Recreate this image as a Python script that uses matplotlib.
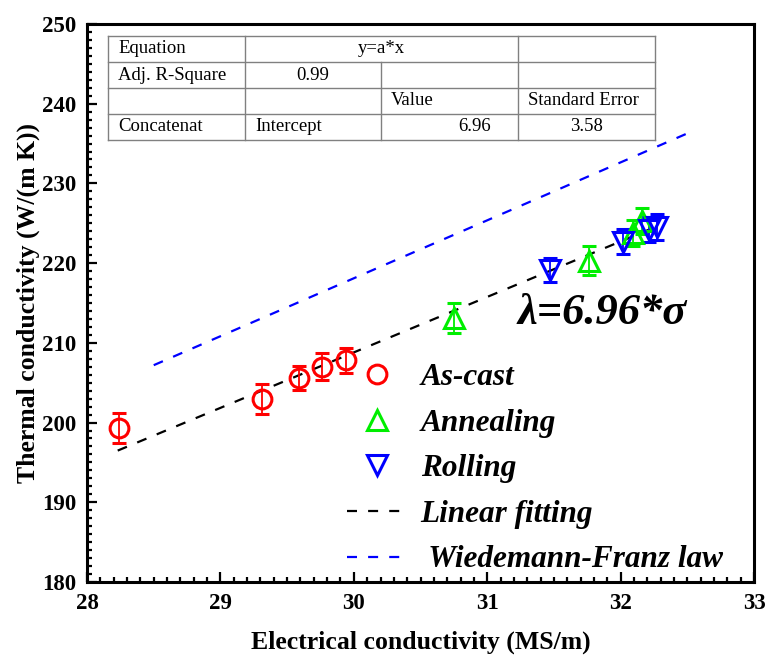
#IMPORT NECESSARY LIBRARIES
import matplotlib.pyplot as plt
from matplotlib.lines import Line2D
from matplotlib.ticker import MultipleLocator

plt.rcParams['font.family'] = ['Liberation Serif', 'DejaVu Serif']

#DATA
cast_x = [28.24, 29.31, 29.59, 29.76, 29.94]
cast_y = [199.3, 202.95, 205.6, 207.0, 207.8]
cast_err = [1.9, 1.9, 1.5, 1.7, 1.6]

anneal_x = [30.75, 31.76, 32.09, 32.16]
anneal_y = [213.1, 220.3, 223.8, 225.3]
anneal_err = [1.9, 1.8, 1.6, 1.6]

roll_x = [31.47, 32.02, 32.21, 32.27]
roll_y = [219.1, 222.7, 224.2, 224.5]
roll_err = [1.5, 1.6, 1.6, 1.6]

fit_slope = 6.96
fit_x = [28.23, 32.25]
wf_slope = 7.27
wf_x = [28.5, 32.5]

table_rows = [
    ["Equation", "y=a*x", "", ""],
    ["Adj. R-Square", "0.99", "", ""],
    ["", "", "Value", "Standard Error"],
    ["Concatenat", "Intercept", "6.96", "3.58"],
]

#FIGURE
fig = plt.figure(figsize=(7.66, 6.59), dpi=100)
ax = fig.add_axes([0.1136, 0.1169, 0.8708, 0.8467])

ms = 13.5
mew = 2.2
dash = (4.5, 5)

ax.plot(fit_x, [fit_slope * v for v in fit_x], color='black', lw=1.6, dashes=dash)
ax.plot(wf_x, [wf_slope * v for v in wf_x], color='blue', lw=1.6, dashes=dash)

ax.errorbar(cast_x, cast_y, yerr=cast_err, fmt='o', ms=ms, mfc='none', mec='red', mew=mew,
            ecolor='red', elinewidth=1.3, capsize=5, capthick=1.3)
ax.errorbar(anneal_x, anneal_y, yerr=anneal_err, fmt='^', ms=ms + 1, mfc='none', mec='#00ee00', mew=mew,
            ecolor='#00ee00', elinewidth=1.3, capsize=5, capthick=1.3)
ax.errorbar(roll_x, roll_y, yerr=roll_err, fmt='v', ms=ms + 1, mfc='none', mec='blue', mew=mew,
            ecolor='blue', elinewidth=1.3, capsize=5, capthick=1.3)

#AXES
ax.set_xlim(28, 33)
ax.set_ylim(180, 250)
ax.xaxis.set_major_locator(MultipleLocator(1))
ax.xaxis.set_minor_locator(MultipleLocator(0.1))
ax.yaxis.set_major_locator(MultipleLocator(10))
ax.yaxis.set_minor_locator(MultipleLocator(1))
ax.tick_params(which='both', direction='in', width=1.6, top=False, right=False)
ax.tick_params(which='major', length=7, labelsize=16.5, pad=8)
ax.tick_params(which='minor', length=3.5)
for lab in ax.get_xticklabels() + ax.get_yticklabels():
    lab.set_fontweight('bold')
for sp in ax.spines.values():
    sp.set_linewidth(2.2)

ax.set_xlabel("Electrical conductivity (MS/m)", fontsize=18.5, fontweight='bold', labelpad=12)
ax.set_ylabel("Thermal conductivity (W/(m K))", fontsize=18.5, fontweight='bold', labelpad=1)

#ANNOTATION
ax.text(31.86, 213.7, "λ=6.96*σ", fontsize=32, fontweight='bold', fontstyle='italic',
        ha='center', va='center')

#LEGEND
handles = [
    Line2D([], [], ls='none', marker='o', ms=ms, mfc='none', mec='red', mew=mew),
    Line2D([], [], ls='none', marker='^', ms=ms + 1, mfc='none', mec='#00ee00', mew=mew),
    Line2D([], [], ls='none', marker='v', ms=ms + 1, mfc='none', mec='blue', mew=mew),
    Line2D([], [], color='black', lw=1.6, dashes=dash),
    Line2D([], [], color='blue', lw=1.6, dashes=dash),
]
labels = ["As-cast", "Annealing", "Rolling", "Linear fitting", " Wiedemann-Franz law"]
ax.legend(handles, labels, loc='upper left', bbox_to_anchor=(0.39, 0.392), frameon=False,
          prop={'size': 22.5, 'weight': 'bold', 'style': 'italic'}, handlelength=1.9,
          handletextpad=0.45, labelspacing=0.53, borderpad=0, borderaxespad=0)

#TABLE
col_x = [0.0315, 0.237, 0.441, 0.646, 0.852]
row_y = [0.9785, 0.932, 0.885, 0.839, 0.792]
gray = '#808080'
tk = dict(transform=ax.transAxes, color=gray, lw=1.0)
for y in row_y:
    ax.plot([col_x[0], col_x[-1]], [y, y], **tk)
for i, x in enumerate(col_x):
    if i == 2:
        ax.plot([x, x], [row_y[1], row_y[-1]], **tk)
    else:
        ax.plot([x, x], [row_y[0], row_y[-1]], **tk)

tfont = dict(transform=ax.transAxes, fontsize=13.5, va='center')
pad = 0.015
for r, row in enumerate(table_rows):
    yc = (row_y[r] + row_y[r + 1]) / 2
    for c, txt in enumerate(row):
        if not txt:
            continue
        if r == 0 and c == 1:
            ax.text(col_x[2], yc, txt, ha='center', **tfont)
        elif (r == 1 and c == 1) or (r == 3 and c == 3):
            ax.text((col_x[c] + col_x[c + 1]) / 2, yc, txt, ha='center', **tfont)
        elif r == 3 and c == 2:
            ax.text(col_x[c + 1] - 0.04, yc, txt, ha='right', **tfont)
        else:
            ax.text(col_x[c] + pad, yc, txt, ha='left', **tfont)

plt.savefig("out.png", dpi=100)
